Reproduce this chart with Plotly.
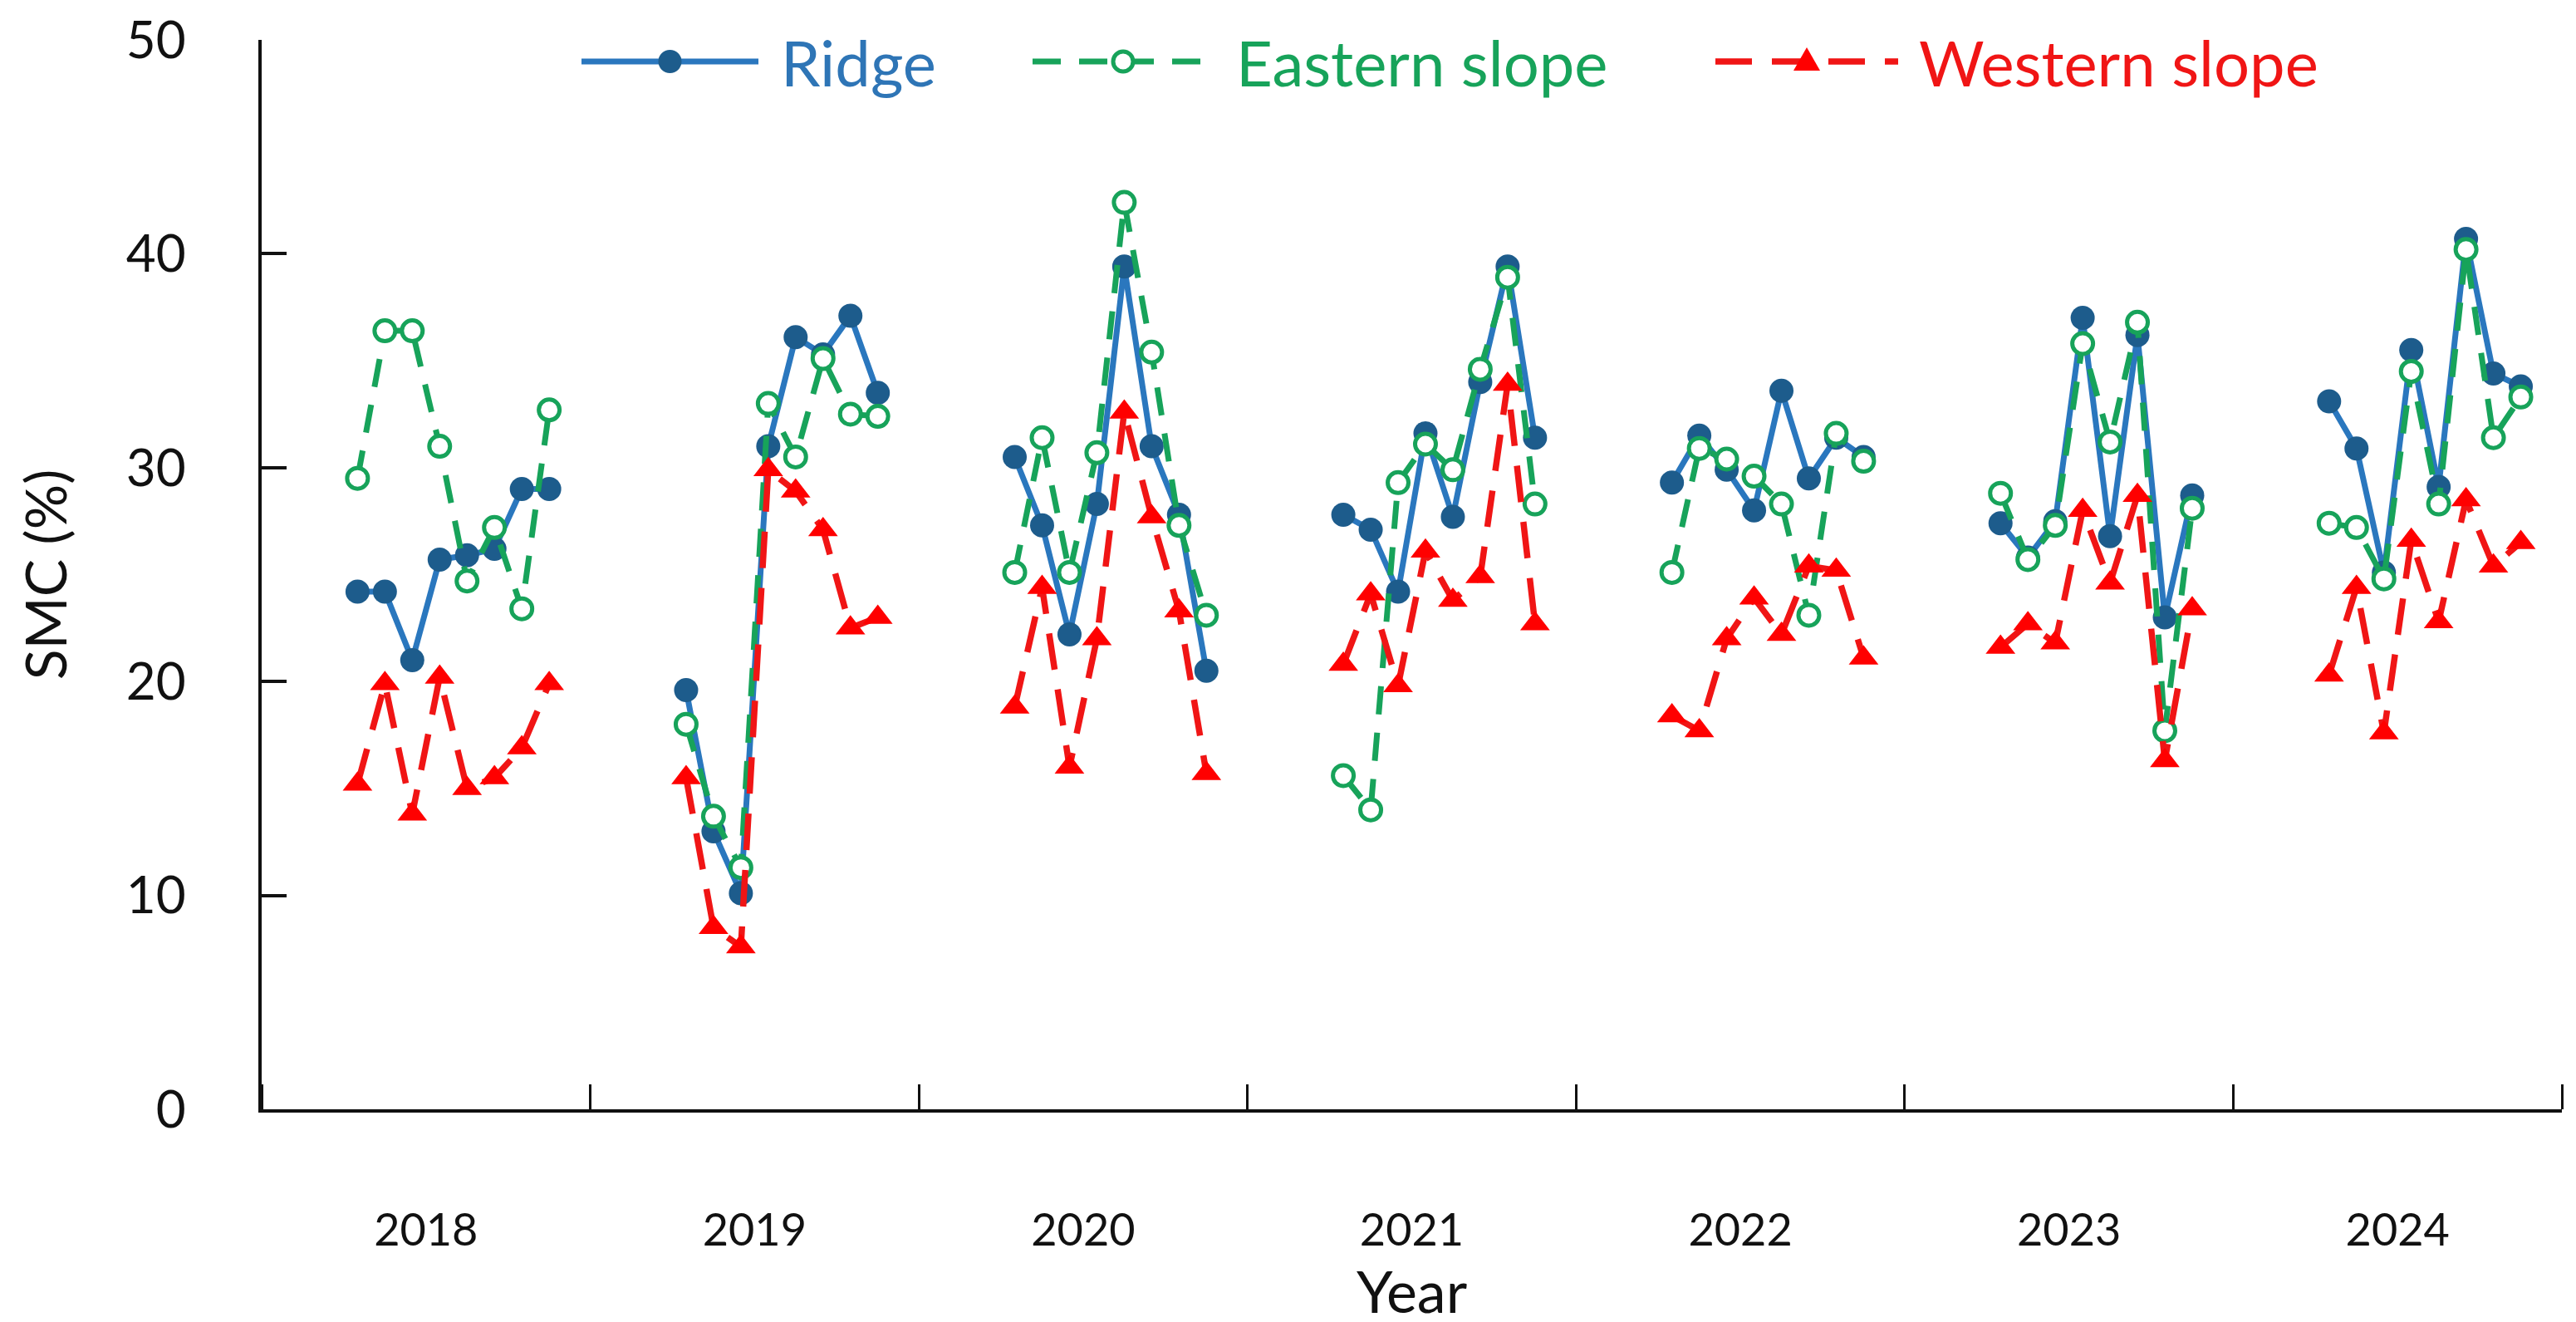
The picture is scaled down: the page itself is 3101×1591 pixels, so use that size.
import plotly.graph_objects as go

years = ["2018", "2019", "2020", "2021", "2022", "2023", "2024"]
month_index = [3, 4, 5, 6, 7, 8, 9, 10]  # Apr..Nov within each year's 12 slots

ridge = [
    [24.2, 24.2, 21.0, 25.7, 25.9, 26.2, 29.0, 29.0],
    [19.6, 13.0, 10.1, 31.0, 36.1, 35.3, 37.1, 33.5],
    [30.5, 27.3, 22.2, 28.3, 39.4, 31.0, 27.8, 20.5],
    [27.8, 27.1, 24.2, 31.6, 27.7, 34.0, 39.4, 31.4],
    [29.3, 31.5, 29.9, 28.0, 33.6, 29.5, 31.4, 30.5],
    [27.4, 25.8, 27.5, 37.0, 26.8, 36.2, 23.0, 28.7],
    [33.1, 30.9, 25.1, 35.5, 29.1, 40.7, 34.4, 33.8],
]
eastern = [
    [29.5, 36.4, 36.4, 31.0, 24.7, 27.2, 23.4, 32.7],
    [18.0, 13.7, 11.3, 33.0, 30.5, 35.1, 32.5, 32.4],
    [25.1, 31.4, 25.1, 30.7, 42.4, 35.4, 27.3, 23.1],
    [15.6, 14.0, 29.3, 31.1, 29.9, 34.6, 38.9, 28.3],
    [25.1, 30.9, 30.4, 29.6, 28.3, 23.1, 31.6, 30.3],
    [28.8, 25.7, 27.3, 35.8, 31.2, 36.8, 17.7, 28.1],
    [27.4, 27.2, 24.8, 34.5, 28.3, 40.2, 31.4, 33.3],
]
western = [
    [15.2, 19.9, 13.8, 20.2, 15.0, 15.5, 16.9, 19.9],
    [15.5, 8.5, 7.6, 29.9, 28.9, 27.1, 22.5, 23.0],
    [18.8, 24.4, 16.0, 22.0, 32.6, 27.7, 23.3, 15.7],
    [20.8, 24.1, 19.8, 26.1, 23.8, 24.9, 33.9, 22.7],
    [18.4, 17.7, 22.0, 23.9, 22.2, 25.4, 25.2, 21.1],
    [21.6, 22.7, 21.8, 28.0, 24.6, 28.7, 16.3, 23.4],
    [20.3, 24.4, 17.6, 26.6, 22.8, 28.5, 25.4, 26.5],
]
y_ticks = [0, 10, 20, 30, 40, 50]
series_names = ["Ridge", "Eastern slope", "Western slope"]

# styling
C_RIDGE_LINE, C_RIDGE_MK, C_RIDGE_TXT = "#2A77BE", "#1D5C8C", "#2E75B6"
C_EAST = "#17A35A"
C_WEST_LINE, C_WEST_MK = "#F01515", "#FF0000"
DASH_EAST = "34px,22px"
DASH_WEST = "44px,24px"
FONT = "Lato"

W, H = 3101, 1591
ML, MR, MT, MB = 307, 25, 40, 264
PW, PH = W - ML - MR, H - MT - MB


def flatten(series):
    xs, ys = [], []
    for yi, vals in enumerate(series):
        for m, v in zip(month_index, vals):
            xs.append(yi * 12 + m + 0.5)
            ys.append(v)
        xs.append(None)
        ys.append(None)
    return xs, ys


fig = go.Figure()

xr, yr = flatten(ridge)
fig.add_trace(go.Scatter(
    x=xr, y=yr, mode="lines+markers", connectgaps=False, name=series_names[0],
    line=dict(color=C_RIDGE_LINE, width=7),
    marker=dict(symbol="circle", size=29, color=C_RIDGE_MK, line=dict(width=0)),
))
xe, ye = flatten(eastern)
fig.add_trace(go.Scatter(
    x=xe, y=ye, mode="lines+markers", connectgaps=False, name=series_names[1],
    line=dict(color=C_EAST, width=7, dash=DASH_EAST),
    marker=dict(symbol="circle", size=25, color="white",
                line=dict(color=C_EAST, width=5)),
))
xw, yw = flatten(western)
fig.add_trace(go.Scatter(
    x=xw, y=yw, mode="lines+markers", connectgaps=False, name=series_names[2],
    line=dict(color=C_WEST_LINE, width=7.5, dash=DASH_WEST),
    marker=dict(symbol="triangle-up", size=31, color=C_WEST_MK, line=dict(width=0)),
))


# ---- legend drawn in the Excel style (long sample line, marker in middle) ----
def px_x(x):
    return (x - ML) / PW


def px_y(y):
    return 1 - (y - MT) / PH


LEG_Y = px_y(66)
legend_items = [
    # (line start, line end, text start) in page pixels
    (692, 905, 930, series_names[0], C_RIDGE_TXT),
    (1235, 1453, 1478, series_names[1], C_EAST),
    (2057, 2277, 2300, series_names[2], C_WEST_LINE),
]
shapes, annotations = [], []
line_styles = [
    dict(color=C_RIDGE_LINE, width=7),
    dict(color=C_EAST, width=7, dash=DASH_EAST),
    dict(color=C_WEST_LINE, width=7.5, dash=DASH_WEST),
]
for (x0, x1, xt, name, tc), ls in zip(legend_items, line_styles):
    shapes.append(dict(type="line", xref="paper", yref="paper",
                       x0=px_x(x0), x1=px_x(x1), y0=LEG_Y, y1=LEG_Y, line=ls))
    annotations.append(dict(text=name, xref="paper", yref="paper",
                            x=px_x(xt), y=LEG_Y, xanchor="left", yanchor="middle",
                            showarrow=False,
                            font=dict(family=FONT, size=76, color=tc)))

mids = [(a + b) / 2 for a, b, *_ in legend_items]
shapes.append(dict(type="circle", xref="paper", yref="paper",
                   xsizemode="pixel", ysizemode="pixel",
                   xanchor=px_x(mids[0]), yanchor=LEG_Y,
                   x0=-14, x1=14, y0=-14, y1=14,
                   fillcolor=C_RIDGE_MK, line=dict(width=0)))
shapes.append(dict(type="circle", xref="paper", yref="paper",
                   xsizemode="pixel", ysizemode="pixel",
                   xanchor=px_x(mids[1]), yanchor=LEG_Y,
                   x0=-12, x1=12, y0=-12, y1=12,
                   fillcolor="white", line=dict(color=C_EAST, width=5)))
shapes.append(dict(type="path", xref="paper", yref="paper",
                   xsizemode="pixel", ysizemode="pixel",
                   xanchor=px_x(mids[2]), yanchor=LEG_Y,
                   path="M-16,-11 L16,-11 L0,17 Z",
                   fillcolor=C_WEST_MK, line=dict(width=0)))

fig.update_layout(
    width=W, height=H,
    paper_bgcolor="white", plot_bgcolor="white",
    margin=dict(l=ML, r=MR, t=MT, b=MB, autoexpand=False),
    font=dict(family=FONT, color="#111111"),
    showlegend=False,
    shapes=shapes,
    annotations=annotations,
    xaxis=dict(
        range=[0, 84], showgrid=False, zeroline=False,
        showline=True, linecolor="#111111", linewidth=4,
        tickmode="array",
        tickvals=[i * 12 + 6 for i in range(len(years))],
        ticktext=years, ticks="", ticklabelstandoff=95,
        tickfont=dict(family=FONT, size=54, color="#111111"),
        minor=dict(tickmode="linear", tick0=0, dtick=12, ticks="inside",
                   ticklen=30, tickwidth=3, tickcolor="#111111", showgrid=False),
        title=dict(text="Year", font=dict(family=FONT, size=70, color="#111111"),
                   standoff=10),
        automargin=False, fixedrange=True,
    ),
    yaxis=dict(
        range=[0, 50], showgrid=False, zeroline=False,
        showline=True, linecolor="#111111", linewidth=4,
        tickmode="array", tickvals=y_ticks,
        ticks="inside", ticklen=30, tickwidth=4, tickcolor="#111111",
        ticklabelstandoff=75,
        tickfont=dict(family=FONT, size=62, color="#111111"),
        title=dict(text="SMC (%)", font=dict(family=FONT, size=68, color="#111111"),
                   standoff=50),
        automargin=False, fixedrange=True,
    ),
)

fig.write_html("out.html")
